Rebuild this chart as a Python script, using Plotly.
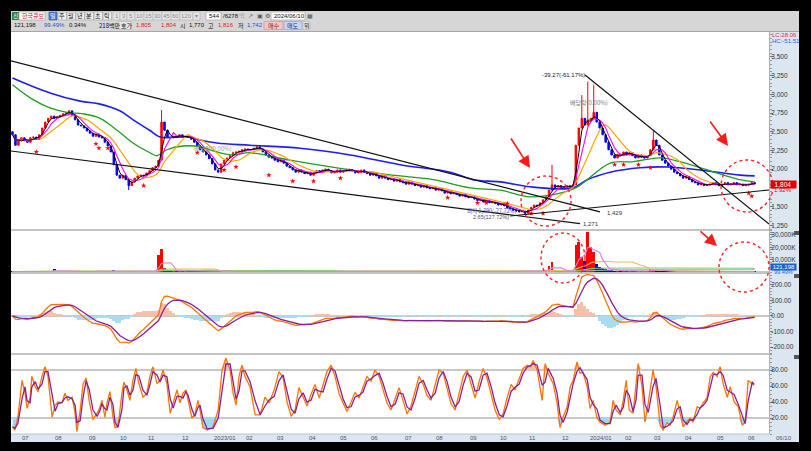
import numpy as np
import pandas as pd
import plotly.graph_objects as go
from plotly.subplots import make_subplots

# ---------------- data (1 bar ~ 2 trading days) ----------------
closes = [
    2460, 2320, 2390, 2420, 2380, 2360, 2420, 2430, 2400, 2460,
    2550, 2630, 2680, 2710, 2680, 2700, 2720, 2740, 2750, 2780,
    2720, 2660, 2590, 2580, 2550, 2510, 2480, 2440, 2470, 2430,
    2420, 2360, 2310, 2230, 2060, 1920, 1880, 1920, 1860, 1780,
    1830, 1880, 1910, 1920, 1910, 1950, 1980, 2020, 2040, 2120,
    2630, 2520, 2430, 2420, 2440, 2430, 2460, 2430, 2440, 2430,
    2400, 2360, 2310, 2260, 2230, 2190, 2140, 2070, 1990, 1960,
    2070, 2120, 2150, 2180, 2220, 2230, 2240, 2260, 2270, 2260,
    2260, 2280, 2300, 2270, 2230, 2190, 2160, 2150, 2120, 2100,
    2120, 2080, 2040, 2020, 1990, 1960, 1990, 1960, 1940, 1960,
    1920, 1950, 1980, 1960, 1990, 2000, 1980, 1950, 1960, 1990,
    1960, 1980, 2000, 1990, 1980, 1950, 1960, 1990, 1960, 1940,
    1920, 1950, 1910, 1880, 1910, 1880, 1860, 1870, 1840, 1860,
    1830, 1820, 1800, 1830, 1800, 1780, 1790, 1760, 1780, 1750,
    1740, 1750, 1720, 1740, 1710, 1680, 1700, 1670, 1680, 1660,
    1640, 1660, 1630, 1620, 1630, 1600, 1580, 1590, 1560, 1580,
    1550, 1560, 1540, 1520, 1540, 1510, 1480, 1470, 1450, 1440,
    1430, 1440, 1410, 1450, 1490, 1520, 1510, 1550, 1590, 1630,
    1720, 1790, 1760, 1780, 1750, 1760, 1780, 1760, 1790, 2320,
    2550, 2680, 2590, 2660, 2680, 2760, 2630, 2550, 2460, 2360,
    2260, 2190, 2150, 2200, 2180, 2230, 2190, 2220, 2180, 2150,
    2190, 2160, 2150, 2180, 2260, 2390, 2320, 2190, 2120, 2080,
    2040, 2000, 1960, 1940, 1910, 1880, 1900, 1860, 1830, 1820,
    1790, 1800, 1780, 1790, 1800, 1820, 1790, 1780, 1800, 1820,
    1790, 1800, 1820, 1790, 1800, 1780, 1790, 1800, 1820, 1804,
]
first_open = 2500
wick_high_bars = [50, 181, 191, 193, 195, 215]
wick_high_vals = [2790, 2060, 2990, 3170, 3130, 2520]
wick_low_bars = [39, 172]
wick_low_vals = [1720, 1390]

volumes_k = [
    420, 380, 300, 260, 350, 280, 240, 310, 260, 300,
    520, 640, 1000, 700, 2400, 560, 480, 620, 700, 820,
    460, 380, 340, 300, 280, 320, 260, 420, 800, 900,
    380, 460, 520, 900, 1400, 1100, 620, 480, 560, 900,
    520, 430, 380, 360, 1200, 420, 460, 540, 900, 14000,
    18300, 3000, 1400, 900, 1200, 800, 700, 1100, 600, 520,
    480, 420, 380, 460, 400, 520, 600, 740, 880, 760,
    900, 620, 480, 400, 360, 380, 340, 320, 300, 420,
    360, 300, 280, 340, 300, 320, 280, 260, 300, 340,
    280, 300, 420, 380, 320, 280, 300, 1200, 340, 280,
    260, 240, 280, 300, 260, 240, 900, 280, 260, 240,
    220, 260, 240, 220, 260, 280, 240, 220, 200, 240,
    220, 260, 280, 240, 220, 260, 300, 280, 240, 220,
    260, 240, 220, 200, 260, 280, 240, 220, 260, 240,
    280, 300, 260, 240, 220, 260, 300, 280, 320, 260,
    240, 220, 280, 300, 260, 240, 280, 320, 300, 280,
    260, 300, 280, 320, 360, 300, 420, 480, 520, 600,
    560, 480, 700, 640, 520, 600, 480, 900, 1200, 1600,
    5100, 7800, 1800, 1200, 900, 800, 700, 900, 1400, 21800,
    24400, 12300, 9000, 32500, 20400, 16400, 6200, 3800, 3000, 2200,
    1800, 1400, 1200, 1000, 900, 1100, 800, 900, 700, 760,
    800, 700, 640, 900, 2400, 2600, 1400, 900, 700, 620,
    560, 500, 480, 440, 420, 400, 380, 360, 340, 320,
    300, 280, 260, 300, 280, 260, 240, 220, 260, 240,
    220, 200, 240, 220, 200, 180, 220, 200, 160, 121,
]

# long moving averages (bar index, price)
ma60_bars = [0, 6.9, 12.6, 18.3, 23.7, 29.4, 35.1, 40.4, 46.1, 48.5, 51.8, 57.2, 62.9, 68.6, 74, 79.7,
             93.1, 113.3, 130, 141.1, 153.5, 163.6, 173.7, 183.7, 189.4, 200.5, 208.2, 217.3, 224, 230.7, 244.1, 249]
ma60_vals = [3130, 2930, 2820, 2760, 2740, 2680, 2520, 2350, 2220, 2180, 2260, 2310, 2300, 2230, 2190, 2220,
             2120, 1990, 1910, 1860, 1750, 1720, 1630, 1680, 1760, 2080, 2100, 2150, 2100, 2020, 1860, 1830]
ma120_bars = [0, 12.6, 22.7, 29.4, 36, 40.5, 46, 49.5, 58.6, 62.9, 68.6, 79.7, 96.5, 113.3, 130, 146.8,
              154.5, 163.6, 174.7, 188, 192.8, 200.5, 210.6, 219.6, 230.7, 244.1, 249]
ma120_vals = [3220, 3020, 2910, 2870, 2780, 2660, 2520, 2430, 2430, 2390, 2350, 2320, 2280, 2190, 2060, 1960,
              1860, 1830, 1760, 1750, 1860, 1960, 2020, 2030, 1990, 1920, 1910]

# slow stochastic %K (bar index, value)
stoch_bars = [0, 0.8, 1.8, 3.2, 4.2, 4.9, 5.9, 6.5, 7.6, 8.6, 9.9, 10.9, 11.9, 13.3, 14.3, 15.3, 16.6, 17.6,
              18.6, 20.0, 21.0, 21.6, 22.7, 23.7, 24.7, 25.7, 27.0, 28.4, 29.4, 30.0, 31.0, 31.7, 32.7, 33.7,
              34.4, 35.4, 36.7, 37.4, 38.4, 39.4, 40.4, 41.4, 42.4, 43.8, 45.1, 46.1, 47.1, 48.5, 49.5, 50.5,
              51.8, 52.9, 53.9, 55.2, 56.2, 57.2, 58.2, 58.9, 60.2, 61.2, 62.2, 62.9, 63.9, 65.3, 67.3, 69.0,
              70.3, 71.6, 73.0, 74.0, 75.0, 76.0, 77.0, 78.0, 79.7, 81.4, 83.1, 84.7, 86.1, 87.8, 89.4, 90.8,
              92.1, 93.5, 94.8, 96.1, 97.5, 98.8, 100.2, 101.5, 102.9, 104.2, 105.5, 106.9, 108.2, 109.6, 110.9,
              112.2, 113.6, 114.9, 116.3, 117.6, 118.9, 120.3, 121.6, 123.0, 124.3, 125.7, 127.0, 128.4, 129.7,
              131.0, 132.4, 133.7, 135.1, 136.4, 137.8, 139.1, 140.4, 141.8, 143.1, 144.5, 145.8, 147.1, 148.5,
              149.8, 151.2, 152.5, 153.9, 155.2, 156.5, 157.9, 159.2, 160.6, 161.9, 163.3, 164.6, 165.9, 167.3,
              168.6, 170.0, 171.3, 172.7, 173.7, 174.7, 176.0, 177.7, 178.7, 179.7, 181.4, 182.7, 183.7, 184.7,
              186.1, 187.1, 188.1, 189.4, 190.4, 191.4, 192.8, 193.8, 194.8, 196.1, 197.1, 198.8, 200.5, 201.5,
              202.5, 203.9, 204.9, 205.9, 206.9, 208.2, 209.2, 209.9, 211.2, 212.2, 213.3, 214.9, 215.9, 217.3,
              218.3, 219.6, 220.6, 221.6, 223.0, 224.0, 225.0, 226.3, 227.3, 228.3, 229.7, 230.7, 231.7, 233.0,
              234.1, 235.1, 236.4, 237.4, 238.4, 239.8, 240.8, 242.1, 243.5, 244.8, 245.8, 246.8, 248.2, 248.8]
stoch_k = [9, 5, 21, 67, 51, 32, 46, 72, 59, 53, 72, 84, 72, 21, 36, 40, 39, 51,
           42, 46, 26, 3, 30, 63, 70, 42, 18, 26, 34, 42, 21, 39, 53, 21,
           8, 9, 51, 65, 55, 42, 67, 82, 63, 46, 51, 72, 84, 63, 67, 80,
           63, 26, 39, 55, 39, 51, 55, 42, 20, 24, 42, 30, 8, 5, 9, 30,
           80, 95, 80, 51, 36, 72, 86, 72, 59, 24, 24, 46, 39, 55, 78, 70,
           40, 22, 30, 58, 45, 35, 50, 62, 45, 60, 78, 86, 72, 50, 38,
           28, 40, 52, 45, 60, 72, 66, 80, 72, 55, 38, 30, 45, 58,
           42, 25, 35, 55, 72, 62, 48, 42, 60, 80, 76, 55, 38, 30,
           50, 72, 80, 62, 45, 65, 82, 70, 48, 30, 18, 25, 45, 62,
           55, 70, 82, 86, 84, 92, 80, 42, 88, 76, 63, 39, 8, 21,
           34, 59, 67, 90, 76, 77, 59, 32, 42, 20, 15, 11, 15, 42,
           30, 24, 42, 67, 30, 26, 59, 88, 59, 15, 39, 80, 59, 11,
           5, 14, 11, 21, 42, 26, 9, 15, 20, 15, 34, 32, 39, 45,
           72, 77, 72, 84, 63, 46, 59, 40, 34, 11, 15, 67, 63, 61]

signal_bars = [8, 28, 29, 32, 44, 62, 71, 75, 86, 94, 101, 110, 146, 156, 159, 166, 174, 178, 202, 205, 210, 214, 247, 248]
signal_prices = [2230, 2340, 2280, 2280, 1780, 2220, 1990, 2030, 1920, 1840, 1840, 1880, 1620, 1550, 1550, 1540,
                 1410, 1410, 2060, 2060, 2060, 2020, 1680, 1640]

month_ticks = [4.5, 15.3, 26.7, 37.1, 46.8, 57.9, 71.3, 79.4, 89.8, 100.8, 111.2, 121.6, 132.7, 143.1,
               154.5, 164.6, 174.3, 185.4, 197.5, 206.5, 216.3, 226.7, 237.4, 247.8]
month_labels = ["07", "08", "09", "10", "11", "12", "2023/01", "02", "03", "04", "05", "06", "07", "08",
                "09", "10", "11", "12", "2024/01", "02", "03", "04", "05", "06"]

price_ticks = [1250, 1500, 1750, 2000, 2250, 2500, 2750, 3000, 3250, 3500]
vol_ticks = [10000, 20000, 30000]
macd_ticks = [-200, -100, 0, 100, 200]
stoch_ticks = [20, 40, 60, 80]

# trend lines drawn on the chart: ((bar, price), (bar, price))
trend_lines = [((-0.5, 3447), (197.1, 1429)),
               ((-0.5, 2243), (190.4, 1271)),
               ((167, 1374), (253.8, 1722)),
               ((192.1, 3259), (253.8, 1267))]

# ---------------- derived series ----------------
n = len(closes)
idx = np.arange(n)
c = pd.Series(closes, dtype=float)
o = c.shift(1)
o.iloc[0] = first_open
h = np.maximum(o, c)
l = np.minimum(o, c)
for b, v in zip(wick_high_bars, wick_high_vals):
    h.iloc[b] = max(h.iloc[b], v)
for b, v in zip(wick_low_bars, wick_low_vals):
    l.iloc[b] = min(l.iloc[b], v)

ma5 = c.rolling(3, min_periods=1).mean()
ma10 = c.rolling(5, min_periods=1).mean()
ma20 = c.rolling(10, min_periods=1).mean()

vol = pd.Series(volumes_k, dtype=float)
vma5 = vol.rolling(5, min_periods=1).mean()
vma20 = vol.rolling(20, min_periods=1).mean()
vma60 = vol.rolling(60, min_periods=1).mean()
vma120 = vol.rolling(120, min_periods=1).mean()
vcol = ['#ff0000' if cc >= oo else '#0000ff' for cc, oo in zip(c, o)]

ema_f = c.ewm(span=6, adjust=False).mean()
ema_s = c.ewm(span=13, adjust=False).mean()
macd = ema_f - ema_s
sig = macd.ewm(span=5, adjust=False).mean()
osc = macd - sig
ocol = ['#f8c0a8' if v >= 0 else '#a8dcf4' for v in osc]

sk = pd.Series(stoch_k, dtype=float)
sd = sk.rolling(2, min_periods=1).mean()
ns = len(stoch_k)

# ---------------- figure ----------------
W, H = 811, 451
L, R, T, B = 11, 769, 32, 434
FONT = "Liberation Sans, Arial, sans-serif"
KFONT = "Noto Sans CJK KR, sans-serif"


def px2x(px):
    return (px - L) / (R - L)


def py2y(py):
    return (B - py) / (B - T)


fig = make_subplots(rows=4, cols=1, shared_xaxes=True, vertical_spacing=0)

# price
fig.add_trace(go.Candlestick(x=idx, open=o, high=h, low=l, close=c,
                             increasing=dict(line=dict(color='#ff0000', width=1), fillcolor='#ff0000'),
                             decreasing=dict(line=dict(color='#0000ff', width=1), fillcolor='#0000ff'),
                             whiskerwidth=0, showlegend=False), row=1, col=1)
fig.add_trace(go.Scatter(x=ma120_bars, y=ma120_vals, mode='lines', line=dict(color='#1c1cff', width=1.6, shape='spline'),
                         showlegend=False), row=1, col=1)
fig.add_trace(go.Scatter(x=ma60_bars, y=ma60_vals, mode='lines', line=dict(color='#1e9e1e', width=1.3, shape='spline'),
                         showlegend=False), row=1, col=1)
fig.add_trace(go.Scatter(x=idx, y=ma20, mode='lines', line=dict(color='#ffa500', width=1.2), showlegend=False), row=1, col=1)
fig.add_trace(go.Scatter(x=idx, y=ma10, mode='lines', line=dict(color='#ff00ff', width=1.1), showlegend=False), row=1, col=1)
fig.add_trace(go.Scatter(x=idx, y=ma5, mode='lines', line=dict(color='#000000', width=1), showlegend=False), row=1, col=1)
fig.add_trace(go.Scatter(x=signal_bars, y=signal_prices, mode='markers',
                         marker=dict(symbol='star', size=4, color='#ff0000', line=dict(width=0)), showlegend=False), row=1, col=1)

# volume
fig.add_trace(go.Bar(x=idx, y=vol, marker=dict(color=vcol, line=dict(width=0)), width=0.9, showlegend=False), row=2, col=1)
for s, colr in [(vma120, '#a8a8a8'), (vma60, '#7cc870'), (vma20, '#e8c050'), (vma5, '#e080e0')]:
    fig.add_trace(go.Scatter(x=idx, y=s, mode='lines', line=dict(color=colr, width=1.1), showlegend=False), row=2, col=1)

# macd
fig.add_trace(go.Bar(x=idx, y=osc, marker=dict(color=ocol, line=dict(width=0)), width=1.0, showlegend=False), row=3, col=1)
fig.add_trace(go.Scatter(x=idx, y=macd, mode='lines', line=dict(color='#ff7400', width=1.3), showlegend=False), row=3, col=1)
fig.add_trace(go.Scatter(x=idx, y=sig, mode='lines', line=dict(color='#8a1e9a', width=1.3), showlegend=False), row=3, col=1)

# stochastic
fig.add_trace(go.Scatter(x=stoch_bars, y=[20] * ns, mode='lines', line=dict(width=0), hoverinfo='skip', showlegend=False), row=4, col=1)
fig.add_trace(go.Scatter(x=stoch_bars, y=np.minimum(sk, 20), mode='lines', line=dict(width=0), fill='tonexty',
                         fillcolor='#9edcf4', showlegend=False), row=4, col=1)
fig.add_trace(go.Scatter(x=stoch_bars, y=[80] * ns, mode='lines', line=dict(width=0), hoverinfo='skip', showlegend=False), row=4, col=1)
fig.add_trace(go.Scatter(x=stoch_bars, y=np.maximum(sk, 80), mode='lines', line=dict(width=0), fill='tonexty',
                         fillcolor='#f4c0ac', showlegend=False), row=4, col=1)
fig.add_trace(go.Scatter(x=stoch_bars, y=sk, mode='lines', line=dict(color='#ff7400', width=1.3), showlegend=False), row=4, col=1)
fig.add_trace(go.Scatter(x=stoch_bars, y=sd, mode='lines', line=dict(color='#8a1e9a', width=1.3), showlegend=False), row=4, col=1)

# axes
domains = [(py2y(230), 1.0), (py2y(273), py2y(230)), (py2y(354), py2y(273)), (0.0, py2y(354))]
ranges = [[1187, 3834], [-800, 34000], [-245, 277], [0, 100]]
tickvals = [price_ticks, vol_ticks, macd_ticks, stoch_ticks]
ticktexts = [["" if v == 1750 else f"{v:,}" for v in price_ticks], [f"{v:,}K" for v in vol_ticks],
             [f"{v:.2f}" for v in macd_ticks], [f"{v:.2f}" for v in stoch_ticks]]
minors = [50, 2000, 20, 5]
for r in range(4):
    fig.update_yaxes(row=r + 1, col=1, domain=list(domains[r]), range=ranges[r], side='right',
                     tickvals=tickvals[r], ticktext=ticktexts[r], ticks='outside', ticklen=3,
                     tickcolor='#777', tickwidth=1, showgrid=False, zeroline=False,
                     showline=True, linecolor='#b0b0b0', linewidth=1, ticklabelstandoff=-3,
                     tickfont=dict(size=6.5, color='#333', family=FONT),
                     minor=dict(dtick=minors[r], ticks='outside', ticklen=1.5, tickcolor='#999'),
                     fixedrange=True)
fig.update_xaxes(range=[-0.5, 253.8], showticklabels=False, showgrid=False, zeroline=False,
                 showline=False, ticks='', rangeslider_visible=False, fixedrange=True)

S = []
A = []


def rect(x0, y0, x1, y1, fill, line=None, lw=0.6, layer='above'):
    S.append(dict(type='rect', xref='paper', yref='paper', x0=px2x(x0), x1=px2x(x1), y0=py2y(y1), y1=py2y(y0),
                  fillcolor=fill, line=dict(color=line if line else fill, width=lw if line else 0), layer=layer))


def txt(px, py, s, color='#000', size=6.5, anchor='left', fam=FONT, bg=None, **kw):
    d = dict(xref='paper', yref='paper', x=px2x(px), y=py2y(py), text=s, showarrow=False, xanchor=anchor,
             yanchor='middle', font=dict(size=size, color=color, family=fam), borderpad=0)
    if bg:
        d['bgcolor'] = bg
    d.update(kw)
    A.append(d)


# frame pieces
rect(11, 11, 799, 31.5, '#d6d6d6', layer='below')
rect(11, 31, 799, 31.8, '#b8b8b8', layer='below')
rect(769, 32, 799, 442, '#dce6f1', layer='below')
rect(11, 434, 769, 442, '#dce6f1', layer='below')
# panel separators
for py in [230, 273, 354]:
    S.append(dict(type='line', xref='paper', yref='paper', x0=0, x1=1, y0=py2y(py), y1=py2y(py),
                  line=dict(color='#c4c4c4', width=2), layer='above'))
S.append(dict(type='line', xref='paper', yref='paper', x0=0, x1=1, y0=0, y1=0, line=dict(color='#b8c4d0', width=1)))
# reference lines
S.append(dict(type='line', xref='x2', yref='y2', x0=-0.5, x1=253.8, y0=0, y1=0, line=dict(color='#b0b0b0', width=1.5), layer='below'))
S.append(dict(type='line', xref='x3', yref='y3', x0=-0.5, x1=253.8, y0=0, y1=0, line=dict(color='#b4b4b4', width=1.5), layer='below'))
for lvl in [20, 80]:
    S.append(dict(type='line', xref='x4', yref='y4', x0=-0.5, x1=253.8, y0=lvl, y1=lvl,
                  line=dict(color='#c8c8c8', width=2), layer='below'))
# trend lines
for (x0, y0), (x1, y1) in trend_lines:
    S.append(dict(type='line', xref='x', yref='y', x0=x0, y0=y0, x1=x1, y1=y1, line=dict(color='#111', width=1.2)))
# dotted circles
for (x0, y0, x1, y1) in [(521, 176, 571, 226), (721, 160, 773, 212), (541, 233, 585, 283), (719, 242, 769, 292)]:
    S.append(dict(type='circle', xref='paper', yref='paper', x0=px2x(x0), x1=px2x(x1), y0=py2y(y1), y1=py2y(y0),
                  line=dict(color='#ff2020', width=1.4, dash='dot')))
# collapse buttons
for py in [231, 274, 355]:
    rect(794, py, 799, py + 4, '#555555')

# red arrows
for (hx, hy, tx, ty) in [(530, 168, 510, 137), (728, 146, 709, 120), (717, 246, 699, 230)]:
    A.append(dict(xref='paper', yref='paper', x=px2x(hx), y=py2y(hy), ax=tx - hx, ay=ty - hy, text='',
                  showarrow=True, arrowhead=2, arrowsize=1.5, arrowwidth=1.6, arrowcolor='#ff1a1a', standoff=0))

# chart annotations
txt(541, 75, '-39.27(-61.17%)', color='#222', size=6)
txt(569, 102, '배당락(0.00%)', color='#777', size=6, fam=KFONT)
txt(193, 148, '배당락(0.00%)', color='#999', size=6, fam=KFONT)
txt(606, 213, '1,429', color='#333', size=6)
txt(582, 224, '1,271', color='#333', size=6)
txt(466, 211, '최저 1,390(-27.72%)', color='#5050c0', size=5.5, fam=KFONT)
txt(472, 217, '2.65(127.72%)', color='#555', size=5.5)

# month labels
for tkx, lab in zip(month_ticks, month_labels):
    A.append(dict(xref='x4', yref='paper', x=tkx, y=py2y(438), text=lab, showarrow=False, xanchor='center',
                  yanchor='middle', font=dict(size=6, color='#555', family=FONT)))
txt(784, 438, '06/10', color='#555', size=6, anchor='center')

# right axis badges
txt(771, 35, 'LC:28.06', color='#e03030', size=6)
txt(771, 41, 'HC:-51.51', color='#2a60e0', size=6)
txt(783, 184, '  1,804   ', color='#fff', size=6.5, anchor='center', bg='#e00000')
txt(773, 190, '1.92%', color='#e00000', size=6)
txt(783, 266.5, ' 121,198 ', color='#fff', size=6, anchor='center', bg='#1f5fd6')
txt(773, 271.5, '99.49%', color='#1f5fd6', size=5.5)

# toolbar row 1
rect(12, 12, 19, 20, '#2f7d4f')
txt(15.5, 16, '신', color='#fff', size=6, anchor='center', fam=KFONT)
rect(19, 12, 45, 20, '#ffffff', line='#9a9a9a')
txt(21, 16, '한국큐브', color='#d02020', size=6, fam=KFONT)
rect(49, 12, 57, 20, '#3d7bd9', line='#2a5aa8')
txt(53, 16, '일', color='#fff', size=6, anchor='center', fam=KFONT)
for k, ch in enumerate(['주', '월', '년', '분', '초', '틱']):
    x0 = 58 + 9 * k
    rect(x0, 12, x0 + 8.5, 20, '#ededed', line='#a0a0a0')
    txt(x0 + 4.2, 16, ch, color='#111', size=6, anchor='center', fam=KFONT)
for (x0, x1, lab) in [(113, 120, '1'), (120, 127, '3'), (127, 135, '5'), (135, 144, '10'), (144, 153, '15'),
                      (153, 162, '30'), (162, 171, '45'), (171, 180, '60'), (180, 193, '120'), (193, 200, '▾')]:
    rect(x0, 12, x1, 20, '#e4e4e4', line='#b0b0b0')
    txt((x0 + x1) / 2, 16, lab, color='#8a8a8a', size=6, anchor='center')
rect(206, 12, 221, 20, '#ffffff', line='#9a9a9a')
txt(208, 16, '544', color='#111', size=6)
txt(222, 16, '/6278', color='#111', size=6)
txt(238, 16, '백', color='#aaa', size=6, fam=KFONT)
txt(247, 16, '↗', color='#555', size=6)
txt(256, 16, '▣', color='#555', size=6)
txt(264, 16, '⚙', color='#555', size=6)
rect(271, 12, 305, 20, '#ffffff', line='#9a9a9a')
txt(273, 16, '2024/06/10', color='#111', size=6)
txt(306, 16, '▦', color='#555', size=6)

# toolbar row 2
txt(13, 25.5, '121,198', color='#111', size=6)
txt(43, 25.5, '99.49%', color='#2050d0', size=6)
txt(68, 25.5, '0.34%', color='#111', size=6)
txt(98, 25.5, '218백만', color='#111', size=6, fam=KFONT)
rect(118, 21.5, 131, 29.5, '#e6e6e6', line='#b0b0b0')
txt(119.5, 25.5, '호가', color='#111', size=6, fam=KFONT)
txt(135, 25.5, '1,805', color='#e02020', size=6)
txt(160, 25.5, '1,804', color='#e02020', size=6)
txt(179, 25.5, '시', color='#111', size=6, fam=KFONT)
txt(188, 25.5, '1,770', color='#111', size=6)
txt(207, 25.5, '고', color='#111', size=6, fam=KFONT)
txt(217, 25.5, '1,816', color='#e02020', size=6)
txt(237, 25.5, '저', color='#111', size=6, fam=KFONT)
txt(246, 25.5, '1,742', color='#2050d0', size=6)
rect(264, 21.5, 283, 29.5, '#f3c6c6', line='#c09090')
txt(273.5, 25.5, '매수', color='#902020', size=6, anchor='center', fam=KFONT)
rect(284, 21.5, 302, 29.5, '#c6d6f3', line='#90a0c0')
txt(293, 25.5, '매도', color='#203090', size=6, anchor='center', fam=KFONT)
rect(303, 21.5, 310, 29.5, '#e6e6e6', line='#b0b0b0')
txt(306.5, 25.5, '뭐', color='#333', size=6, anchor='center', fam=KFONT)

fig.update_layout(width=W, height=H, margin=dict(l=L, r=W - R, t=T, b=H - B),
                  paper_bgcolor='#000000', plot_bgcolor='#ffffff', showlegend=False,
                  bargap=0, shapes=S, annotations=A, hovermode=False)

fig.write_html("out.html", config={'displayModeBar': False},
               post_script="document.body.style.margin='0';document.body.style.padding='0';"
                           "document.body.style.overflow='hidden';document.body.style.background='#000';")
